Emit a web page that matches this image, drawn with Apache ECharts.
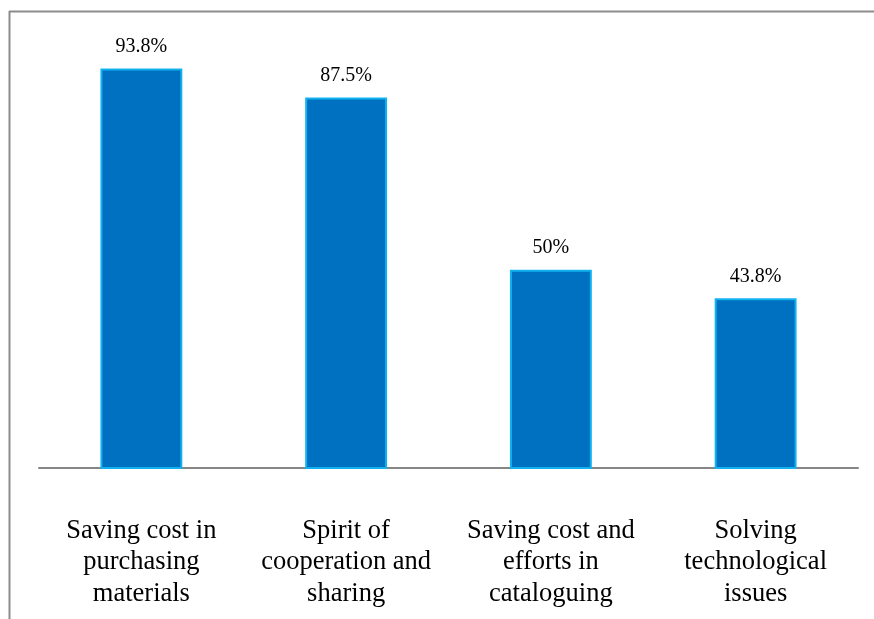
<!DOCTYPE html>
<html>
<head>
<meta charset="utf-8">
<script src="https://cdn.jsdelivr.net/npm/echarts@6/dist/echarts.min.js"></script>
<style>
  html, body { margin: 0; padding: 0; background: #fff; }
  #main { width: 874px; height: 619px; }
</style>
</head>
<body>
<div id="main"></div>
<script>
// categories (wrapped as in the picture)
var categories = [
    'Saving cost in\npurchasing\nmaterials',
    'Spirit of\ncooperation and\nsharing',
    'Saving cost and\nefforts in\ncataloguing',
    'Solving\ntechnological\nissues'
];
// percentages
var values = [93.8, 87.5, 50, 43.8];

var myChart = echarts.init(document.getElementById('main'));

var serif = "'Liberation Serif', 'Times New Roman', serif";

var option = {
    backgroundColor: '#fff',
    animation: false,
    grid: {
        left: 39,
        right: 16,
        top: 40,
        bottom: 151
    },
    xAxis: {
        type: 'category',
        data: categories,
        axisLine: { lineStyle: { color: '#868686', width: 2 } },
        axisTick: { show: false },
        axisLabel: {
            interval: 0,
            margin: 47,
            fontFamily: serif,
            fontSize: 26.5,
            lineHeight: 31.5,
            color: '#000'
        }
    },
    yAxis: {
        type: 'value',
        min: 6.9,
        max: 100,
        show: false,
        splitLine: { show: false }
    },
    series: [{
        type: 'bar',
        data: values,
        barWidth: '40%',
        itemStyle: {
            color: '#0070C0',
            borderColor: '#12B2F0',
            borderWidth: 2
        },
        label: {
            show: true,
            position: 'top',
            distance: 12,
            fontFamily: serif,
            fontSize: 20,
            color: '#000',
            formatter: '{c}%'
        }
    }],
    // outer frame of the figure
    graphic: [
        { type: 'line', shape: { x1: 9.5, y1: 11, x2: 9.5, y2: 619 }, style: { stroke: '#8c8c8c', lineWidth: 2 } },
        { type: 'line', shape: { x1: 9, y1: 11.5, x2: 874, y2: 11.5 }, style: { stroke: '#8c8c8c', lineWidth: 2 } }
    ]
};

myChart.setOption(option);
</script>
</body>
</html>
